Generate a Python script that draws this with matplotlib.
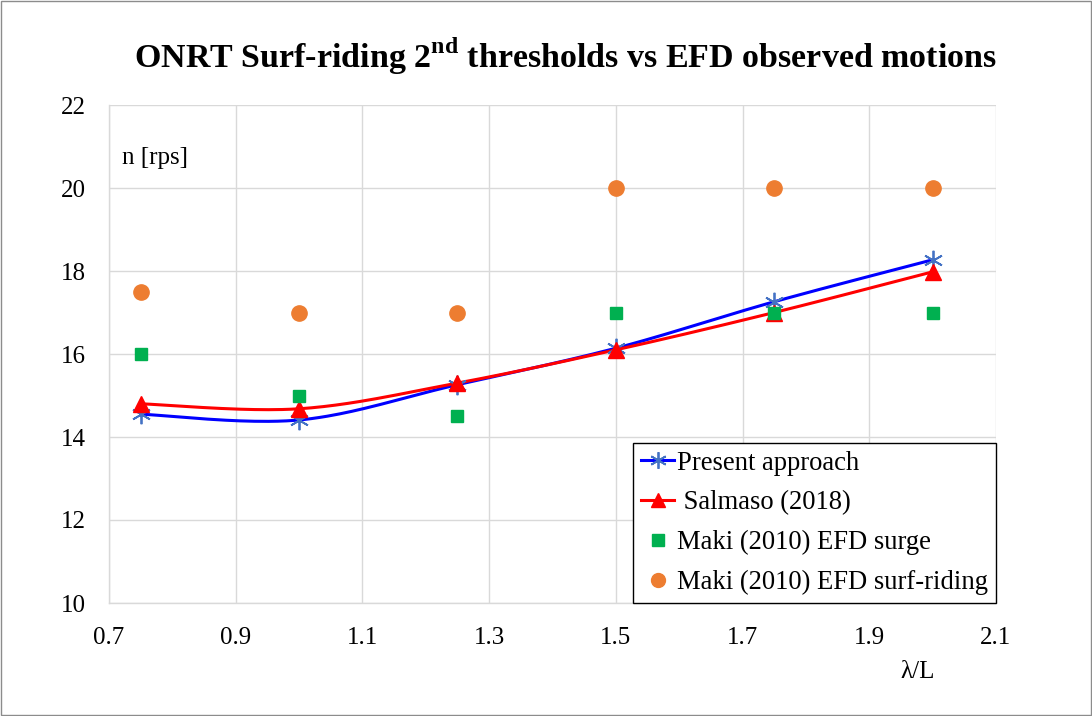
import numpy as np
import matplotlib
matplotlib.use("Agg")
import matplotlib.pyplot as plt
from matplotlib.patches import Rectangle
from matplotlib.lines import Line2D

wave_ratio = [0.75, 1.0, 1.25, 1.5, 1.75, 2.0]
present_approach = [14.55, 14.41, 15.26, 16.14, 17.26, 18.27]
salmaso_2018 = [14.80, 14.68, 15.30, 16.10, 17.00, 17.98]
maki_surge = [16.0, 15.0, 14.5, 17.0, 17.0, 17.0]
maki_surf_riding = [17.5, 17.0, 17.0, 20.0, 20.0, 20.0]
x_ticks = [0.7, 0.9, 1.1, 1.3, 1.5, 1.7, 1.9, 2.1]
y_ticks = [10, 12, 14, 16, 18, 20, 22]


def smooth(xs, ys, n=40):
    P = np.column_stack([np.asarray(xs, float), np.asarray(ys, float)])
    out = []
    for i in range(len(P) - 1):
        p0 = P[i - 1] if i > 0 else P[i]
        p1 = P[i]
        p2 = P[i + 1]
        p3 = P[i + 2] if i + 2 < len(P) else P[i + 1]
        c1 = p1 + (p2 - p0) / 6.0
        c2 = p2 - (p3 - p1) / 6.0
        t = np.linspace(0, 1, n)[:, None]
        seg = ((1 - t) ** 3) * p1 + 3 * ((1 - t) ** 2) * t * c1 + 3 * (1 - t) * t ** 2 * c2 + t ** 3 * p2
        out.append(seg if i == 0 else seg[1:])
    s = np.vstack(out)
    return s[:, 0], s[:, 1]


plt.rcParams['font.family'] = ['Liberation Serif', 'DejaVu Serif']
plt.rcParams['mathtext.fontset'] = 'custom'
plt.rcParams['mathtext.bf'] = 'Liberation Serif:bold'
plt.rcParams['mathtext.rm'] = 'Liberation Serif'

fig = plt.figure(figsize=(10.92, 7.16), dpi=100)
ax = fig.add_axes([109 / 1092, 1 - 603 / 716, (996 - 109) / 1092, (603 - 105) / 716])

fig.patches.append(Rectangle((0.001, 0.001), 0.998, 0.998, transform=fig.transFigure,
                             fill=False, edgecolor='#8c8c8c', linewidth=1.0))

asterisk = (6, 2, 0)

sx, sy = smooth(wave_ratio, present_approach)
ax.plot(sx, sy, color='#0000FF', linewidth=2.2, zorder=3)
ax.plot(wave_ratio, present_approach, linestyle='none', marker=asterisk, markersize=14,
        markeredgecolor='#4472C4', markeredgewidth=1.3, zorder=4)

rx, ry = smooth(wave_ratio, salmaso_2018)
ax.plot(rx, ry, color='#FF0000', linewidth=2.2, zorder=3)
ax.plot(wave_ratio, salmaso_2018, linestyle='none', marker='^', markersize=11,
        color='#FF0000', zorder=4)

ax.plot(wave_ratio, maki_surge, linestyle='none', marker='s', markersize=9,
        color='#00B050', zorder=4)
ax.plot(wave_ratio, maki_surf_riding, linestyle='none', marker='o', markersize=11,
        color='#ED7D31', zorder=4)

handles = [
    Line2D([], [], color='#0000FF', linewidth=2.2, marker=asterisk, markersize=12,
           markeredgecolor='#4472C4', markeredgewidth=1.3),
    Line2D([], [], color='#FF0000', linewidth=2.2, marker='^', markersize=10),
    Line2D([], [], linestyle='none', color='#00B050', marker='s', markersize=8),
    Line2D([], [], linestyle='none', color='#ED7D31', marker='o', markersize=10),
]
labels = ['Present approach', ' Salmaso (2018)', 'Maki (2010) EFD surge', 'Maki (2010) EFD surf-riding']
leg = ax.legend(handles, labels, loc='lower right', bbox_to_anchor=(1.0, 0.0),
                fontsize=19.2, frameon=True, fancybox=False, framealpha=1,
                edgecolor='black', handlelength=1.25, handletextpad=0.1,
                borderpad=0.3, labelspacing=0.55, borderaxespad=0.0)
leg.get_frame().set_linewidth(1.0)
leg.set_zorder(10)

ax.set_xlim(0.7, 2.1)
ax.set_ylim(10, 22)
ax.set_xticks(x_ticks)
ax.set_xticklabels([f"{v:.1f}" for v in x_ticks])
ax.set_yticks(y_ticks)
ax.set_yticklabels([str(v) for v in y_ticks])
ax.tick_params(axis='x', length=0, labelsize=18, colors='black', pad=17)
ax.tick_params(axis='y', length=0, labelsize=18, colors='black', pad=17)
ax.grid(True, color='#d9d9d9', linewidth=1.0, zorder=0)
ax.set_axisbelow(True)
for side in ['top', 'right']:
    ax.spines[side].set_visible(False)
for side in ['left', 'bottom']:
    ax.spines[side].set_color('#d9d9d9')
    ax.spines[side].set_linewidth(1.0)

fig.text(565 / 1092, 1 - 56 / 716,
         r'ONRT Surf-riding 2$^{\mathbf{nd}}$ thresholds vs EFD observed motions',
         ha='center', va='center', fontsize=24.5, fontweight='bold')
fig.text(122 / 1092, 1 - 158 / 716, 'n [rps]', ha='left', va='center', fontsize=18)
fig.text(918 / 1092, 1 - 672 / 716, 'λ/L', ha='center', va='center', fontsize=18)

fig.savefig('out.png', dpi=100)
